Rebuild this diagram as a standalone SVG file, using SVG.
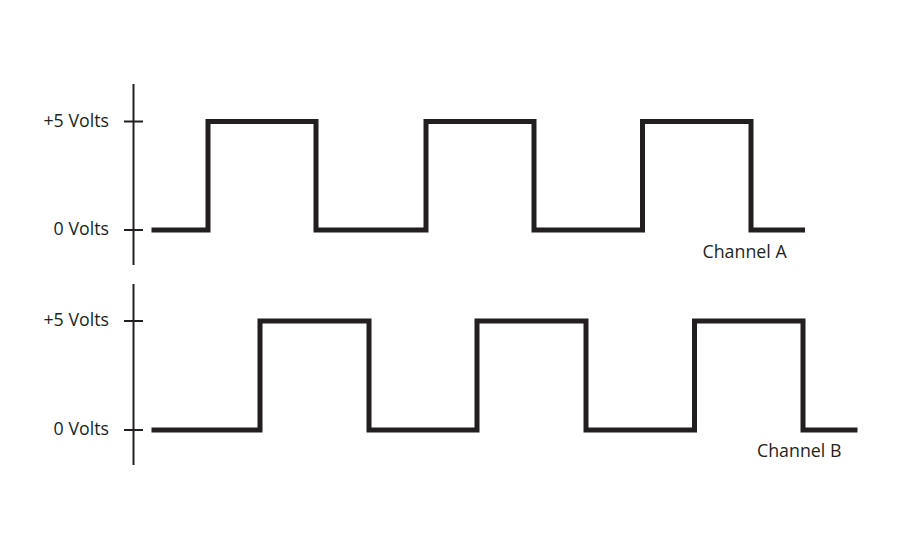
<svg xmlns="http://www.w3.org/2000/svg" width="900" height="550" viewBox="0 0 900 550">
<style>
.axis{stroke:#231f20;stroke-width:2;fill:none}
.wave{stroke:#231f20;stroke-width:5;fill:none;stroke-linejoin:miter;stroke-linecap:butt}
.lbl{font-family:"Open Sans","Liberation Sans",sans-serif;font-size:17.8px;fill:#231f20}
.r{text-anchor:end}
</style>
<rect width="900" height="550" fill="#ffffff"/>
<g id="connectors">
<g id="axisA">
<line class="axis" x1="133.5" y1="84" x2="133.5" y2="265"/>
<line class="axis" x1="124" y1="121.5" x2="143" y2="121.5"/>
<line class="axis" x1="124" y1="230" x2="143" y2="230"/>
</g>
<g id="axisB">
<line class="axis" x1="133.5" y1="284" x2="133.5" y2="465"/>
<line class="axis" x1="124" y1="321" x2="143" y2="321"/>
<line class="axis" x1="124" y1="430" x2="143" y2="430"/>
</g>
<path id="waveA" class="wave" d="M151.5 230 H208 V121.5 H316 V230 H426 V121.5 H534 V230 H642.5 V121.5 H751 V230 H805"/>
<path id="waveB" class="wave" d="M151.5 430 H260 V321 H369 V430 H477 V321 H586 V430 H694.5 V321 H803 V430 H857.5"/>
</g>
<g id="labels">
<text class="lbl r" x="109" y="126.5">+5 Volts</text>
<text class="lbl r" x="109" y="235">0 Volts</text>
<text class="lbl r" x="109" y="326">+5 Volts</text>
<text class="lbl r" x="109" y="435">0 Volts</text>
<text class="lbl" x="702.5" y="257.5">Channel A</text>
<text class="lbl" x="757" y="456.5">Channel B</text>
</g>
</svg>
